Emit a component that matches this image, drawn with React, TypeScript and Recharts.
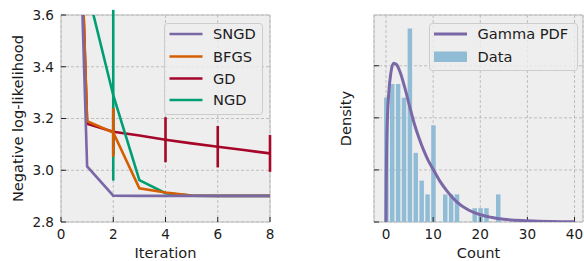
import React from 'react';
import {
  ComposedChart,
  Line,
  Bar,
  XAxis,
  YAxis,
  CartesianGrid,
  ErrorBar,
  ReferenceArea,
} from 'recharts';

// ---------- Left panel data ----------
const iterations = [0, 1, 2, 3, 4, 5, 6, 7, 8];
const sngdValues = [6.3, 3.015, 2.902, 2.901, 2.901, 2.901, 2.901, 2.901, 2.901];
const bfgsValues = [6.3, 3.19, 3.146, 2.93, 2.914, 2.902, 2.901, 2.901, 2.901];
const gdValues = [6.3, 3.18, 3.149, 3.134, 3.118, 3.104, 3.091, 3.078, 3.065];
const ngdValues = [6.3, 3.7, 3.29, 2.962, 2.911, 2.902, 2.901, 2.901, 2.901];
const bfgsErrors = [null, null, 0.094, null, null, null, null, null, null];
const gdErrors = [null, null, 0.09, null, 0.087, null, 0.08, null, 0.071];
const ngdErrors = [null, null, 0.33, null, null, null, null, null, null];
const leftXTicks = [0, 2, 4, 6, 8];
const leftYTicks = [2.8, 3.0, 3.2, 3.4, 3.6];

const seriesNames = ['SNGD', 'BFGS', 'GD', 'NGD'];
const seriesColors = ['#7A68A6', '#D55E00', '#A60628', '#009E73'];

// ---------- Right panel data ----------
const histX = [0, 1.25, 2.5, 3.75, 5, 6.25, 7.5, 8.75, 10, 12.5, 13.75, 15, 18.75, 20, 21.25, 23.75];
const histDensity = [0.0955, 0.106, 0.106, 0.0955, 0.1486, 0.0531, 0.0318, 0.0212, 0.0743, 0.0212, 0.0212, 0.0212, 0.0106, 0.0106, 0.0106, 0.0212];
const pdfX = [0, 0.05, 0.15, 0.3, 0.6, 1.0, 1.6, 2.2, 3.0, 4.0, 5.0, 6.0, 7.0, 8.0, 9.0, 10.0, 11.5, 13.0, 15.0, 17.5, 20.0, 22.5, 25.0, 30.0, 35.0, 40.0];
const pdfY = [0, 0.03, 0.06, 0.08, 0.1, 0.114, 0.122, 0.121, 0.115, 0.103, 0.089, 0.0755, 0.0645, 0.055, 0.047, 0.0405, 0.031, 0.0235, 0.0155, 0.0092, 0.0056, 0.0035, 0.0021, 0.001, 0.0004, 0.0002];
const rightXTicks = [0, 10, 20, 30, 40];
const rightYTicks = [0, 0.04, 0.08, 0.12];
const rightXDomain = [-2.55, 41.8];
const rightYDomain = [0, 0.159];
const legendRight = ['Gamma PDF', 'Data'];
const pdfColor = '#7A68A6';
const histColor = '#91BCD6';

const FONT = 'DejaVu Sans';
const TEXT = '#1c1c1c';

const leftRows = iterations.map((it, i) => ({
  iter: it,
  SNGD: sngdValues[i],
  BFGS: bfgsValues[i],
  GD: gdValues[i],
  NGD: ngdValues[i],
  bfgsErr: bfgsErrors[i],
  gdErr: gdErrors[i],
  ngdErr: ngdErrors[i],
}));

const histRows = histX.map((x, i) => ({ x, hist: histDensity[i] }));
const pdfRows = pdfX.map((x, i) => ({ x, pdf: pdfY[i] }));

const tickStyle = { fontSize: 13.6, fill: TEXT, fontFamily: FONT };

const makeYLabel = (text: string, fromPlotLeft: number) => (props: any) => {
  const vb = props.viewBox || {};
  const x = vb.x + vb.width - fromPlotLeft;
  const y = vb.y + vb.height / 2;
  return (
    <text
      x={x}
      y={y}
      transform={`rotate(-90 ${x} ${y})`}
      textAnchor="middle"
      fontSize={14.6}
      fontFamily={FONT}
      fill={TEXT}
    >
      {text}
    </text>
  );
};

function Legends() {
  const rows = [34, 56.5, 78.5, 100];
  return (
    <svg width={584} height={261} style={{ position: 'absolute', left: 0, top: 0, pointerEvents: 'none' }}>
      <rect x={164.5} y={23.5} width={98} height={91} rx={3} fill="#eeeeee" fillOpacity={0.8} stroke="#cccccc" />
      {seriesNames.map((n, i) => (
        <g key={n}>
          <line x1={169.5} x2={202.5} y1={rows[i]} y2={rows[i]} stroke={seriesColors[i]} strokeWidth={2.6} />
          <text x={213} y={rows[i] + 5.3} fontSize={14.6} fontFamily={FONT} fill={TEXT}>
            {n}
          </text>
        </g>
      ))}
      <rect x={429.5} y={23.5} width={148} height={47} rx={3} fill="#eeeeee" fillOpacity={0.8} stroke="#cccccc" />
      <line x1={434} x2={467} y1={34} y2={34} stroke={pdfColor} strokeWidth={3} />
      <text x={477.5} y={39.3} fontSize={14.6} fontFamily={FONT} fill={TEXT}>
        {legendRight[0]}
      </text>
      <rect x={434} y={51.5} width={33} height={10.5} fill={histColor} />
      <text x={477.5} y={62} fontSize={14.6} fontFamily={FONT} fill={TEXT}>
        {legendRight[1]}
      </text>
    </svg>
  );
}

export default function App() {
  const rightMargin = { top: 15, right: 1, left: 0, bottom: 0 };
  return (
    <div style={{ position: 'absolute', left: 0, top: 0, width: 584, height: 261, background: '#ffffff' }}>
      <div style={{ position: 'absolute', left: 0, top: 0 }}>
        <ComposedChart width={280} height={261} data={leftRows} margin={{ top: 15, right: 10, left: 0, bottom: 0 }}>
          <CartesianGrid fill="#eeeeee" stroke="#b2b2b2" strokeDasharray="3 2" strokeWidth={0.8} />
          <XAxis
            dataKey="iter"
            type="number"
            domain={[0, 8]}
            ticks={leftXTicks}
            allowDataOverflow
            height={39}
            axisLine={false}
            tickSize={-5}
            tickMargin={12.3}
            tickLine={{ stroke: '#222', strokeWidth: 1 }}
            tick={tickStyle}
            interval={0}
            label={{ value: 'Iteration', position: 'insideBottom', offset: 3, fontSize: 14.6, fontFamily: FONT, fill: TEXT }}
          />
          <YAxis
            type="number"
            domain={[2.8, 3.6]}
            ticks={leftYTicks}
            allowDataOverflow
            width={61}
            axisLine={false}
            tickSize={-5}
            tickMargin={12}
            tickLine={{ stroke: '#222', strokeWidth: 1 }}
            tick={tickStyle}
            interval={0}
            tickFormatter={(v: number) => v.toFixed(1)}
            label={{ content: makeYLabel('Negative log-likelihood', 38) }}
          />
          <ReferenceArea x1={0} x2={8} y1={2.8} y2={3.6} fill="none" stroke="#bcbcbc" strokeWidth={1} ifOverflow="visible" />
          <Line dataKey="GD" stroke={seriesColors[2]} strokeWidth={2.6} dot={false} isAnimationActive={false} type="linear">
            <ErrorBar dataKey="gdErr" width={0} stroke={seriesColors[2]} strokeWidth={2.6} direction="y" />
          </Line>
          <Line dataKey="NGD" stroke={seriesColors[3]} strokeWidth={2.6} dot={false} isAnimationActive={false} type="linear">
            <ErrorBar dataKey="ngdErr" width={0} stroke={seriesColors[3]} strokeWidth={2.6} direction="y" />
          </Line>
          <Line dataKey="BFGS" stroke={seriesColors[1]} strokeWidth={2.6} dot={false} isAnimationActive={false} type="linear">
            <ErrorBar dataKey="bfgsErr" width={0} stroke={seriesColors[1]} strokeWidth={2.6} direction="y" />
          </Line>
          <Line dataKey="SNGD" stroke={seriesColors[0]} strokeWidth={2.6} dot={false} isAnimationActive={false} type="linear" />
        </ComposedChart>
      </div>
      {/* Right panel: histogram layer */}
      <div style={{ position: 'absolute', left: 300, top: 0 }}>
        <ComposedChart width={284} height={261} data={histRows} margin={rightMargin}>
          <CartesianGrid fill="#eeeeee" stroke="#b2b2b2" strokeDasharray="3 2" strokeWidth={0.8} />
          <XAxis
            dataKey="x"
            type="number"
            domain={rightXDomain}
            ticks={rightXTicks}
            allowDataOverflow
            height={39}
            axisLine={false}
            tickSize={-5}
            tickMargin={12.3}
            tickLine={{ stroke: '#222', strokeWidth: 1 }}
            tick={tickStyle}
            interval={0}
            label={{ value: 'Count', position: 'insideBottom', offset: 3, fontSize: 14.6, fontFamily: FONT, fill: TEXT }}
          />
          <YAxis
            type="number"
            domain={rightYDomain}
            ticks={rightYTicks}
            allowDataOverflow
            width={74}
            axisLine={false}
            tickSize={-5}
            tickMargin={12}
            tickLine={{ stroke: '#222', strokeWidth: 1 }}
            tick={tickStyle}
            interval={0}
            tickFormatter={() => ''}
            label={{ content: makeYLabel('Density', 23) }}
          />
          <ReferenceArea x1={rightXDomain[0]} x2={rightXDomain[1]} y1={rightYDomain[0]} y2={rightYDomain[1]} fill="none" stroke="#bcbcbc" strokeWidth={1} ifOverflow="visible" />
          <Bar dataKey="hist" fill={histColor} barSize={4.5} isAnimationActive={false} />
        </ComposedChart>
      </div>
      {/* Right panel: gamma PDF layer (same axes geometry, transparent) */}
      <div style={{ position: 'absolute', left: 300, top: 0 }}>
        <ComposedChart width={284} height={261} data={pdfRows} margin={rightMargin}>
          <XAxis
            dataKey="x"
            type="number"
            domain={rightXDomain}
            ticks={rightXTicks}
            allowDataOverflow
            height={39}
            axisLine={false}
            tickLine={false}
            tick={false}
          />
          <YAxis
            type="number"
            domain={rightYDomain}
            ticks={rightYTicks}
            allowDataOverflow
            width={74}
            axisLine={false}
            tickLine={false}
            tick={false}
          />
          <Line dataKey="pdf" stroke={pdfColor} strokeWidth={3} dot={false} isAnimationActive={false} type="monotone" />
        </ComposedChart>
      </div>
      <Legends />
    </div>
  );
}
